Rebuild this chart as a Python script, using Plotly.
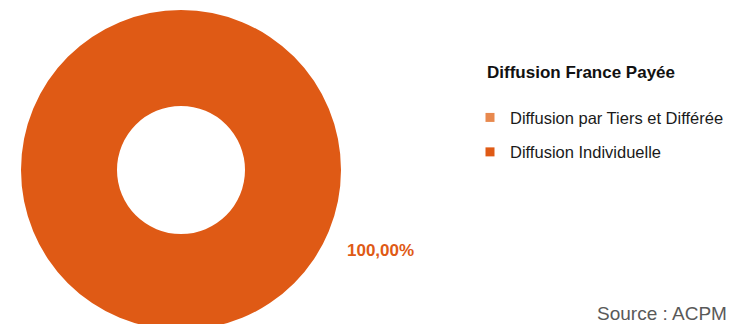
import plotly.graph_objects as go

labels = ["Diffusion par Tiers et Différée", "Diffusion Individuelle"]
values = [0, 100]
colors = ["#E8894E", "#DF5A15"]
legend_title = "Diffusion France Payée"
source_text = "Source : ACPM"

W, H = 729, 330
FONT = "Liberation Sans, Arial, sans-serif"
total = sum(values)

fig = go.Figure(go.Pie(
    labels=labels, values=values,
    marker=dict(colors=colors, line=dict(width=0)),
    hole=0.4, sort=False, direction="clockwise",
    domain=dict(x=[21 / W, 341 / W], y=[0, 1 - 10 / H]),
    textinfo="none", showlegend=False,
    hoverinfo="label+percent",
))

# legend entries (one group per category so the spacing can be set)
for i, (lab, col) in enumerate(zip(labels, colors)):
    fig.add_trace(go.Scatter(
        x=[None], y=[None], mode="markers", name=lab,
        marker=dict(symbol="square", size=9, color=col),
        legendgroup=f"g{i}", showlegend=True, hoverinfo="skip",
    ))

ann = []
for lab, val, col in zip(labels, values, colors):
    if val > 0:
        pct = f"{val / total * 100:.2f}".replace(".", ",") + "%"
        ann.append(dict(
            text="<b>" + pct + "</b>", x=380 / W, y=1 - 250 / H, xref="paper", yref="paper",
            xanchor="center", yanchor="middle", showarrow=False,
            font=dict(size=17, color=col),
        ))
ann.append(dict(
    text=source_text, x=1, y=1 - 313 / H, xref="paper", yref="paper",
    xanchor="right", yanchor="middle", showarrow=False,
    font=dict(size=19, color="#595959"),
))

fig.update_layout(
    width=W, height=H,
    margin=dict(l=0, r=0, t=0, b=0),
    paper_bgcolor="white", plot_bgcolor="white",
    font=dict(family=FONT, color="#1a1a1a"),
    xaxis=dict(visible=False), yaxis=dict(visible=False),
    legend=dict(
        title=dict(text="<b>" + legend_title + "</b><br> ", font=dict(size=17, color="#111111"), side="top"),
        x=1, y=1 - 56 / H, xanchor="right", yanchor="top",
        font=dict(size=16.5, color="#1a1a1a"),
        bgcolor="rgba(0,0,0,0)",
        traceorder="grouped",
        tracegroupgap=10,
        indentation=-15,
    ),
    annotations=ann,
)

fig.write_html("out.html", config={"displayModeBar": False},
               post_script="document.body.style.margin='0';document.body.style.overflow='hidden';")
